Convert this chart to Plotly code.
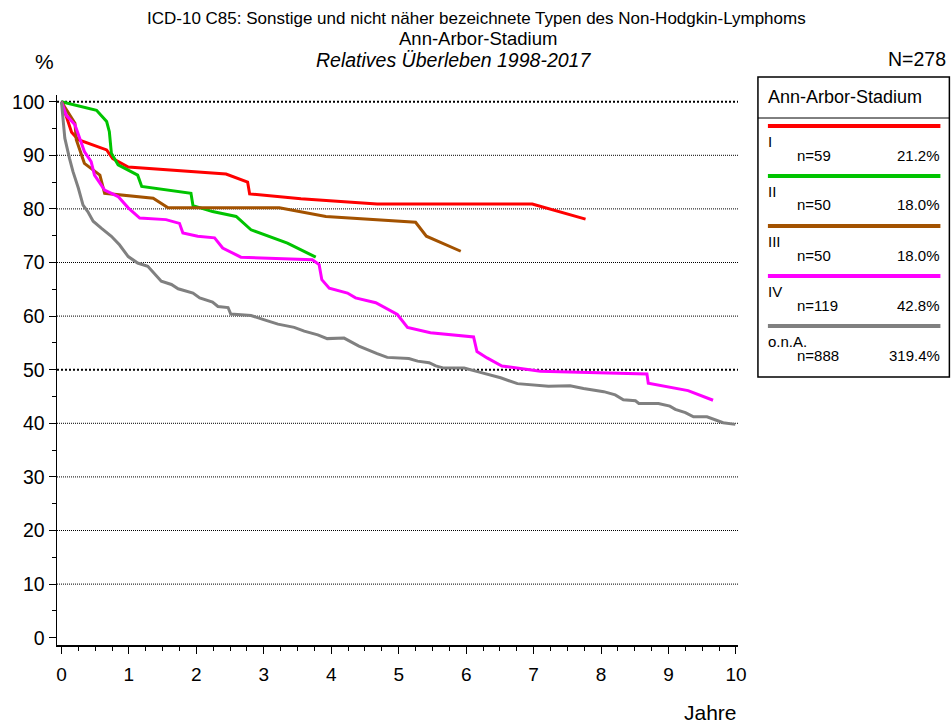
import plotly.graph_objects as go

# ---------------- data ----------------
STAGES = ["I", "II", "III", "IV", "o.n.A."]
N_COUNTS = [59, 50, 50, 119, 888]
PCTS = ["21.2%", "18.0%", "18.0%", "42.8%", "319.4%"]
COLORS = ["#FF0000", "#00C400", "#A35200", "#FF00FF", "#808080"]

x_I = [0, 0.15, 0.25, 0.67, 0.76, 0.99, 2.44, 2.76, 2.79, 3.55, 4.14, 4.68, 6.98, 7.77]
y_I = [100, 94.3, 92.9, 91.0, 89.4, 87.8, 86.5, 85.0, 82.8, 81.9, 81.4, 80.9, 80.9, 78.1]

x_II = [0, 0.52, 0.67, 0.71, 0.74, 0.84, 1.13, 1.19, 1.92, 1.95, 2.24, 2.59, 2.81, 3.35, 3.77]
y_II = [100, 98.4, 96.3, 94.4, 90.4, 88.2, 86.3, 84.2, 82.9, 80.6, 79.5, 78.6, 76.1, 73.6, 71.0]

x_III = [0, 0.2, 0.22, 0.34, 0.57, 0.64, 1.36, 1.58, 3.23, 3.55, 3.92, 5.25, 5.41, 5.92]
y_III = [100, 96.0, 92.9, 88.5, 86.3, 82.9, 82.0, 80.2, 80.2, 79.4, 78.6, 77.5, 74.9, 72.1]

x_IV = [0, 0.07, 0.2, 0.25, 0.34, 0.44, 0.49, 0.64, 0.84, 0.99, 1.16, 1.55, 1.75, 1.80,
        2.02, 2.27, 2.39, 2.66, 3.72, 3.82, 3.86, 3.97, 4.24, 4.36, 4.66, 4.98, 5.13,
        5.47, 6.11, 6.16, 6.31, 6.53, 7.10, 8.68, 8.70, 9.29, 9.66]
y_IV = [100, 97.5, 95.7, 93.8, 90.7, 88.8, 86.3, 83.5, 82.3, 80.2, 78.3, 78.0, 77.3, 75.5,
        74.9, 74.6, 72.7, 71.0, 70.5, 69.6, 66.8, 65.2, 64.3, 63.4, 62.5, 60.3, 57.9,
        56.9, 56.1, 53.4, 52.2, 50.7, 49.7, 49.2, 47.5, 46.1, 44.3]

x_ONA = [0, 0.03, 0.05, 0.12, 0.17, 0.25, 0.32, 0.39, 0.47, 0.59, 0.74, 0.86, 0.99, 1.13,
         1.28, 1.48, 1.63, 1.73, 1.95, 2.05, 2.24, 2.32, 2.47, 2.51, 2.81, 3.01, 3.21,
         3.45, 3.60, 3.80, 3.94, 4.19, 4.41, 4.68, 4.83, 5.15, 5.28, 5.45, 5.55, 5.67,
         5.97, 6.21, 6.51, 6.76, 6.95, 7.22, 7.54, 7.74, 8.04, 8.21, 8.33, 8.51, 8.56,
         8.85, 9.02, 9.10, 9.25, 9.37, 9.57, 9.81, 9.99]
y_ONA = [100, 95.7, 93.2, 89.4, 87.0, 83.9, 80.7, 79.5, 77.7, 76.4, 74.9, 73.3, 71.1, 69.9,
         69.3, 66.5, 65.9, 65.1, 64.3, 63.4, 62.6, 61.8, 61.6, 60.4, 60.1, 59.3, 58.5,
         57.9, 57.2, 56.5, 55.8, 55.9, 54.4, 53.0, 52.3, 52.1, 51.6, 51.3, 50.7, 50.3,
         50.3, 49.5, 48.5, 47.4, 47.2, 46.9, 47.0, 46.5, 45.9, 45.3, 44.4, 44.2, 43.7,
         43.7, 43.2, 42.6, 42.0, 41.2, 41.2, 40.1, 39.8]

SERIES_X = [x_I, x_II, x_III, x_IV, x_ONA]
SERIES_Y = [y_I, y_II, y_III, y_IV, y_ONA]

GRID_Y = [10, 20, 30, 40, 50, 60, 70, 80, 90, 100]
BOLD_GRID = [50, 100]
X_TICKS = list(range(0, 11))
Y_TICKS = list(range(0, 101, 10))

TITLE_1 = "ICD-10 C85: Sonstige und nicht näher bezeichnete Typen des Non-Hodgkin-Lymphoms"
TITLE_2 = "Ann-Arbor-Stadium"
TITLE_3 = "Relatives Überleben 1998-2017"
LEGEND_TITLE = "Ann-Arbor-Stadium"
N_TOTAL = "N=278"

# ---------------- layout geometry (pixels) ----------------
W, H = 952, 726
L, R, T, B = 55, 738, 95, 645
PW, PH = R - L, B - T
FONT = "Liberation Sans, Arial, sans-serif"


def px(x):
    return (x - L) / PW


def py(y):
    return (B - y) / PH


fig = go.Figure()

for name, xs, ys, col in zip(STAGES, SERIES_X, SERIES_Y, COLORS):
    fig.add_trace(go.Scatter(x=xs, y=ys, mode="lines", name=name,
                             line=dict(color=col, width=3), showlegend=False,
                             hoverinfo="skip"))

shapes = []
for g in GRID_Y:
    bold = g in BOLD_GRID
    shapes.append(dict(type="line", xref="paper", yref="y", x0=0, x1=1, y0=g, y1=g,
                       line=dict(color="black", width=2 if bold else 1,
                                 dash="2px,2px" if bold else "1px,1px"),
                       layer="below"))

# legend box
LX0, LX1, LY0, LY1 = 758, 950, 77, 377
shapes.append(dict(type="rect", xref="paper", yref="paper",
                   x0=px(LX0), x1=px(LX1), y0=py(LY1), y1=py(LY0),
                   line=dict(color="black", width=1.5), fillcolor="white"))
shapes.append(dict(type="line", xref="paper", yref="paper",
                   x0=px(LX0), x1=px(LX1), y0=py(118), y1=py(118),
                   line=dict(color="black", width=1)))

annotations = []
for i, (name, n, pct, col) in enumerate(zip(STAGES, N_COUNTS, PCTS, COLORS)):
    ly = 126 + 50 * i
    shapes.append(dict(type="line", xref="paper", yref="paper",
                       x0=px(768), x1=px(941), y0=py(ly), y1=py(ly),
                       line=dict(color=col, width=4)))
    annotations.append(dict(text=name, xref="paper", yref="paper", x=px(766), y=py(ly + 15),
                            xanchor="left", yanchor="middle", showarrow=False,
                            font=dict(size=15, color="black", family=FONT)))
    annotations.append(dict(text=f"n={n}", xref="paper", yref="paper", x=px(795), y=py(ly + 29),
                            xanchor="left", yanchor="middle", showarrow=False,
                            font=dict(size=15, color="black", family=FONT)))
    annotations.append(dict(text=pct, xref="paper", yref="paper", x=px(943), y=py(ly + 29),
                            xanchor="right", yanchor="middle", showarrow=False,
                            font=dict(size=15, color="black", family=FONT)))

annotations += [
    dict(text=LEGEND_TITLE, xref="paper", yref="paper", x=px(766), y=py(97),
         xanchor="left", yanchor="middle", showarrow=False,
         font=dict(size=18, color="black", family=FONT)),
    dict(text=TITLE_1, xref="paper", yref="paper", x=px(476), y=py(18),
         xanchor="center", yanchor="middle", showarrow=False,
         font=dict(size=17, color="black", family=FONT)),
    dict(text=TITLE_2, xref="paper", yref="paper", x=px(477), y=py(38),
         xanchor="center", yanchor="middle", showarrow=False,
         font=dict(size=18.5, color="black", family=FONT)),
    dict(text="<i>" + TITLE_3 + "</i>", xref="paper", yref="paper", x=px(453), y=py(60),
         xanchor="center", yanchor="middle", showarrow=False,
         font=dict(size=19.5, color="black", family=FONT)),
    dict(text="%", xref="paper", yref="paper", x=px(42), y=py(62),
         xanchor="center", yanchor="middle", showarrow=False,
         font=dict(size=21, color="black", family=FONT)),
    dict(text=N_TOTAL, xref="paper", yref="paper", x=px(949), y=py(59),
         xanchor="right", yanchor="middle", showarrow=False,
         font=dict(size=19.5, color="black", family=FONT)),
    dict(text="Jahre", xref="paper", yref="paper", x=px(710), y=py(712),
         xanchor="center", yanchor="middle", showarrow=False,
         font=dict(size=21, color="black", family=FONT)),
]

fig.update_layout(
    width=W, height=H,
    margin=dict(l=L, r=W - R, t=T, b=H - B, pad=0),
    paper_bgcolor="white", plot_bgcolor="white",
    font=dict(family=FONT, color="black"),
    shapes=shapes, annotations=annotations,
    showlegend=False, hovermode=False,
)

fig.update_xaxes(range=[-0.066, 10.03], tickvals=X_TICKS, ticktext=[str(v) for v in X_TICKS],
                 ticks="outside", ticklen=7, tickwidth=1, tickcolor="black",
                 showline=True, linecolor="black", linewidth=1.5,
                 showgrid=False, zeroline=False, ticklabelstandoff=5,
                 tickfont=dict(size=19, family=FONT, color="black"),
                 minor=dict(dtick=0.25, tick0=0, ticks="outside", ticklen=4, tickcolor="black",
                            showgrid=False))
fig.update_yaxes(range=[-1.36, 101.25], tickvals=Y_TICKS, ticktext=[str(v) for v in Y_TICKS],
                 ticks="outside", ticklen=7, tickwidth=1, tickcolor="black",
                 showline=True, linecolor="black", linewidth=1.5,
                 showgrid=False, zeroline=False,
                 tickfont=dict(size=19.5, family=FONT, color="black"),
                 minor=dict(dtick=5, tick0=0, ticks="outside", ticklen=4, tickcolor="black",
                            showgrid=False))

fig.write_html("out.html", config={"displayModeBar": False, "staticPlot": True},
               post_script="document.body.style.margin='0';document.body.style.overflow='hidden';")
